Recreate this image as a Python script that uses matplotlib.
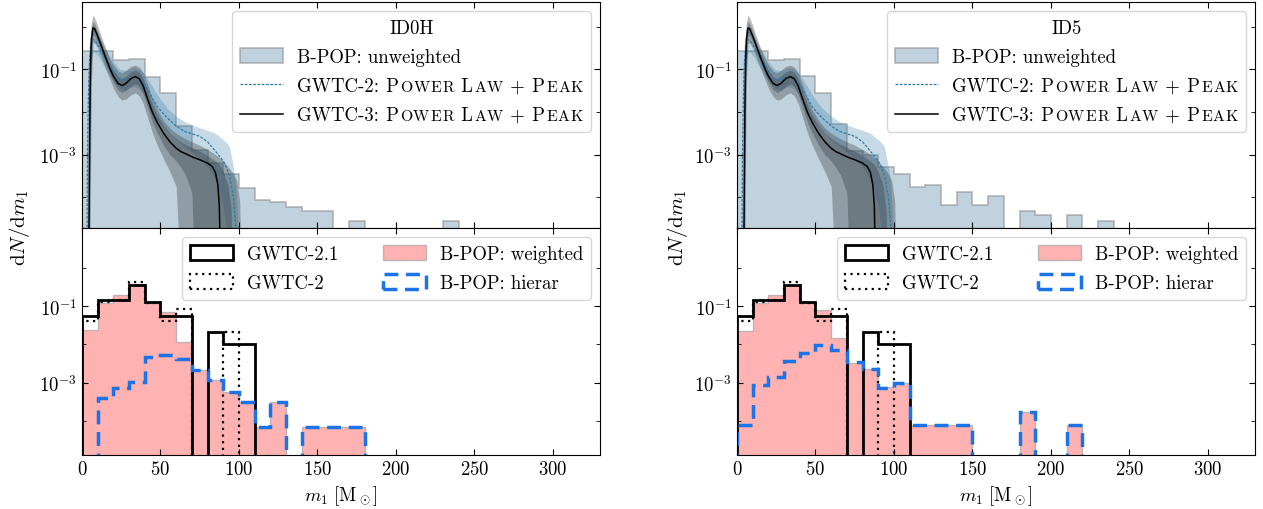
import numpy as np
import matplotlib
matplotlib.use("Agg")
import matplotlib.pyplot as plt
from matplotlib.offsetbox import TextArea, HPacker
from matplotlib.patches import Rectangle
from matplotlib.lines import Line2D
from matplotlib.ticker import FixedLocator, FuncFormatter, NullFormatter

plt.rcParams['font.family'] = 'serif'
plt.rcParams['font.serif'] = ['cmr10']
plt.rcParams['mathtext.fontset'] = 'cm'
plt.rcParams['axes.formatter.use_mathtext'] = True
plt.rcParams['axes.unicode_minus'] = False

FS = 13.5
FS_LEG = 13.5

# ---------------- data ----------------
edges = np.arange(0, 250, 10)

# top panels: B-POP unweighted histograms (per 10 Msun bin)
unw_id0h = [0.275, 0.275, 0.162, 0.178, 0.066, 0.028, 0.0047, 0.00126, 6.3e-4, 3.5e-4,
            1.66e-4, 8.7e-5, 7.8e-5, 5.8e-5, 4.8e-5, 4.8e-5, 0, 2.8e-5, 0, 0, 0, 0, 0, 2.8e-5]
unw_id5 = [0.269, 0.269, 0.162, 0.174, 0.068, 0.028, 0.0051, 0.0012, 0.001, 5.1e-4,
           3.5e-4, 1.74e-4, 1.95e-4, 6.6e-5, 1.32e-4, 6.6e-5, 1.05e-4, 0, 4.8e-5, 3.9e-5,
           0, 3.9e-5, 0, 2.8e-5]

# GWTC-3 Power Law + Peak (log10 dN/dm1): median, 50% and 90% bands
m_g3 = [4, 4.5, 5, 5.5, 6, 7, 8, 10, 12, 15, 18, 20, 23, 25.5, 28, 31, 34, 36.5, 39, 42,
        45, 48, 52, 56, 60, 63, 66, 70, 72, 75, 80, 83, 85, 86.5, 87.5, 88.3, 90, 93, 95,
        96, 98.5, 100.5, 101.5]
g3_med = [-6, -4.5, -2.0, -0.8, -0.3, -0.03, -0.04, -0.22, -0.42, -0.72,
          -1.0, -1.16, -1.33, -1.38, -1.33, -1.22, -1.17, -1.22, -1.39, -1.72,
          -2.02, -2.25, -2.5, -2.7, -2.85, -2.93, -2.98, -3.05, -3.08, -3.12,
          -3.2, -3.28, -3.42, -3.7, -4.2, -6, -6, -6, -6, -6, -6, -6, -6]
g3_in_hi = [-6, -2.5, -0.9, -0.3, 0.0, 0.12, 0.08, -0.1, -0.32, -0.62,
            -0.88, -1.03, -1.18, -1.22, -1.16, -1.06, -1.02, -1.07, -1.22, -1.55,
            -1.85, -2.08, -2.32, -2.5, -2.62, -2.7, -2.76, -2.83, -2.87, -2.92,
            -3.02, -3.1, -3.15, -3.2, -3.24, -3.28, -3.4, -3.72, -4.3, -6, -6, -6, -6]
g3_in_lo = [-6, -6, -3.5, -1.5, -0.7, -0.2, -0.2, -0.36, -0.54, -0.84,
            -1.12, -1.3, -1.48, -1.54, -1.5, -1.4, -1.34, -1.4, -1.58, -1.92,
            -2.25, -2.5, -2.78, -3.0, -3.15, -3.3, -3.48, -3.9, -6, -6,
            -6, -6, -6, -6, -6, -6, -6, -6, -6, -6, -6, -6, -6]
g3_out_hi = [-6, -1.5, -0.5, -0.1, 0.12, 0.27, 0.22, 0.02, -0.2, -0.5,
             -0.76, -0.9, -1.04, -1.08, -1.02, -0.93, -0.9, -0.95, -1.08, -1.38,
             -1.7, -1.95, -2.2, -2.38, -2.5, -2.57, -2.63, -2.7, -2.73, -2.78,
             -2.88, -2.95, -3.0, -3.04, -3.07, -3.09, -3.15, -3.28, -3.38, -3.43,
             -3.6, -4.1, -6]
g3_out_lo = [-6, -6, -6, -3, -1.3, -0.4, -0.38, -0.5, -0.68, -0.98,
             -1.26, -1.44, -1.64, -1.72, -1.7, -1.6, -1.55, -1.62, -1.8, -2.15,
             -2.5, -2.78, -3.1, -3.4, -3.75, -6, -6, -6, -6, -6,
             -6, -6, -6, -6, -6, -6, -6, -6, -6, -6, -6, -6, -6]

# GWTC-2 Power Law + Peak (log10 dN/dm1)
m_g2 = [3, 3.5, 4, 4.5, 5, 6, 7, 8.5, 11, 14, 17, 20, 24, 28, 33, 37, 40, 44, 48, 54,
        60, 65, 70, 75, 80, 85, 90, 92, 94, 96.5, 98, 99.5, 101]
g2_med = [-6, -3, -1.8, -1.1, -0.7, -0.4, -0.3, -0.33, -0.48, -0.68, -0.88, -1.04, -1.22,
          -1.25, -1.17, -1.23, -1.36, -1.62, -1.88, -2.13, -2.33, -2.45, -2.51, -2.57,
          -2.7, -2.92, -3.15, -3.3, -3.5, -4.0, -4.7, -6, -6]
g2_hi = [-6, -1.5, -0.8, -0.45, -0.25, -0.1, -0.05, -0.1, -0.25, -0.45, -0.65, -0.82,
         -1.0, -1.03, -0.95, -1.0, -1.12, -1.35, -1.6, -1.9, -2.1, -2.22, -2.3, -2.37,
         -2.43, -2.5, -2.65, -2.72, -2.82, -3.3, -3.7, -4.8, -6]
g2_lo = [-6, -6, -4, -2.5, -1.5, -0.8, -0.6, -0.6, -0.72, -0.92, -1.12, -1.27, -1.45,
         -1.48, -1.4, -1.47, -1.62, -1.9, -2.2, -2.45, -2.65, -2.8, -2.95, -3.1, -3.3,
         -3.6, -4.2, -4.8, -6, -6, -6, -6, -6]

# bottom panels
gwtc21 = [0.055, 0.148, 0.141, 0.363, 0.126, 0.054, 0.054, 0, 0.021, 0.0102, 0.0102]
gwtc2 = [0.040, 0.126, 0.148, 0.417, 0.120, 0.040, 0.083, 0, 0, 0.021, 0]
w_id0h = [0.024, 0.120, 0.200, 0.380, 0.120, 0.072, 0.0117, 0.0021, 0.00115, 5.6e-4,
          3.1e-4, 7.2e-5, 3.1e-4, 0, 7.2e-5, 7.2e-5, 7.2e-5, 7.2e-5]
h_id0h = [0, 4.1e-4, 7.4e-4, 1.05e-3, 4.8e-3, 5.2e-3, 4.3e-3, 2.1e-3, 1.2e-3, 5.9e-4,
          3.1e-4, 7.2e-5, 3.1e-4, 0, 7.2e-5, 7.2e-5, 7.2e-5, 7.2e-5]
w_id5 = [0.023, 0.120, 0.200, 0.363, 0.120, 0.078, 0.0145, 0.0033, 0.00234, 7.8e-4,
         9.8e-4, 7.9e-5, 7.9e-5, 7.9e-5, 7.9e-5, 0, 0, 0, 1.7e-4, 0, 0, 7.9e-5]
h_id5 = [7.9e-5, 8.9e-4, 1.41e-3, 3.6e-3, 6.0e-3, 9.5e-3, 7.1e-3, 3.5e-3, 2.34e-3, 7.2e-4,
         9.8e-4, 7.9e-5, 7.9e-5, 7.9e-5, 7.9e-5, 0, 0, 0, 1.7e-4, 0, 0, 7.9e-5]

titles = ["ID0H", "ID5"]
xticks = [0, 50, 100, 150, 200, 250, 300]

# ---------------- style ----------------
C_UNW = (0.50, 0.65, 0.74, 0.50)
C_UNW_EDGE = (0.55, 0.55, 0.55, 0.6)
C_G2 = '#2f7aa8'
C_HIER = '#1a73e8'
C_PINK = (1.0, 0.0, 0.0, 0.3)

fig = plt.figure(figsize=(12.63, 5.10), dpi=100)
W, H = 1263., 510.
lefts = [82 / W, 737 / W]
width = 518 / W
top_box = (1 - 229 / H, (229 - 3) / H)
bot_box = (1 - 456 / H, (456 - 229) / H)


def fmt_dec(v, pos):
    return r'$10^{%d}$' % int(round(np.log10(v)))


def style_axis(ax, ylim, majors, minors):
    ax.set_yscale('log')
    ax.set_xlim(0, 330)
    ax.set_ylim(*ylim)
    ax.yaxis.set_major_locator(FixedLocator(majors))
    ax.yaxis.set_major_formatter(FuncFormatter(fmt_dec))
    ax.yaxis.set_minor_locator(FixedLocator(minors))
    ax.yaxis.set_minor_formatter(NullFormatter())
    ax.xaxis.set_major_locator(FixedLocator(xticks))
    ax.tick_params(which='both', direction='in', top=True, right=True, labelsize=FS)
    ax.tick_params(which='major', length=4)
    ax.tick_params(which='minor', length=3)


def smallcaps_segments(prefix):
    big, small = FS_LEG, FS_LEG * 0.84
    segs = [(prefix, big), (" P", big)]
    segs += [(c, small) for c in "OWER"]
    segs += [(" L", big)]
    segs += [(c, small) for c in "AW"]
    segs += [(" +", big), (" P", big)]
    segs += [(c, small) for c in "EAK"]
    return segs


def replace_labels(leg, mapping):
    hbox = leg._legend_handle_box
    rows = [r for col in hbox.get_children() for r in col.get_children()]
    for i, segs in mapping.items():
        row = rows[i]
        areas = [TextArea(s, textprops=dict(fontsize=fs, color='k')) for s, fs in segs]
        box = HPacker(children=areas, align='baseline', pad=0, sep=0.8)
        box.set_figure(fig)
        row.get_children()[1] = box


unw_list = [unw_id0h, unw_id5]
w_list = [w_id0h, w_id5]
h_list = [h_id0h, h_id5]
centers = edges[:-1] + 5
leg_kw = dict(fontsize=FS_LEG, handlelength=2.3, handleheight=0.85, handletextpad=0.75,
              borderaxespad=0.5, labelspacing=0.6, borderpad=0.4)

for k in range(2):
    axt = fig.add_axes([lefts[k], top_box[0], width, top_box[1]])
    axb = fig.add_axes([lefts[k], bot_box[0], width, bot_box[1]])

    # ---- top ----
    style_axis(axt, (1.9e-5, 3.8), [1e-3, 1e-1], [1e-4, 1e-2, 1e0])
    axt.set_xticklabels([])
    nb = len(unw_list[k])
    axt.hist(centers[:nb], bins=edges[:nb + 1], weights=unw_list[k], bottom=1e-9,
             histtype='stepfilled', facecolor=C_UNW, edgecolor=C_UNW_EDGE, lw=1.2)
    m2 = np.array(m_g2)
    axt.fill_between(m2, 10 ** np.array(g2_lo), 10 ** np.array(g2_hi),
                     color=C_G2, alpha=0.28, lw=0)
    m3 = np.array(m_g3)
    axt.fill_between(m3, 10 ** np.array(g3_out_lo), 10 ** np.array(g3_out_hi),
                     color='#3c3c3c', alpha=0.35, lw=0)
    axt.fill_between(m3, 10 ** np.array(g3_in_lo), 10 ** np.array(g3_in_hi),
                     color='#2a3a44', alpha=0.35, lw=0)
    axt.plot(m2, 10 ** np.array(g2_med), color=C_G2, lw=0.9, ls=(0, (2.2, 1.2)))
    axt.plot(m3, 10 ** np.array(g3_med), color='k', lw=1.1)

    h_unw = Rectangle((0, 0), 1, 1, facecolor=C_UNW, edgecolor=C_UNW_EDGE, lw=1.2)
    h_g2 = Line2D([], [], color=C_G2, lw=0.9, ls=(0, (2.2, 1.2)))
    h_g3 = Line2D([], [], color='k', lw=1.1)
    leg = axt.legend([h_unw, h_g2, h_g3],
                     ["B-POP: unweighted", "GWTC-2: Power Law + Peak",
                      "GWTC-3: Power Law + Peak"],
                     title=titles[k], loc='upper right', title_fontsize=FS_LEG, **leg_kw)
    replace_labels(leg, {1: smallcaps_segments("GWTC-2:"),
                         2: smallcaps_segments("GWTC-3:")})

    # ---- bottom ----
    style_axis(axb, (1.3e-5, 11), [1e-3, 1e-1], [1e-4, 1e-2, 1e0])
    nw = len(w_list[k])
    hw = axb.hist(centers[:nw], bins=edges[:nw + 1], weights=w_list[k], bottom=1e-9,
                  histtype='stepfilled', facecolor=C_PINK, edgecolor=(0.6, 0.6, 0.6, 0.6),
                  lw=1.0)[2][0]
    n21 = len(gwtc21)
    h21 = axb.hist(centers[:n21], bins=edges[:n21 + 1], weights=gwtc21, bottom=1e-9,
                   histtype='step', color='k', lw=2.0)[2][0]
    n2 = len(gwtc2)
    h2 = axb.hist(centers[:n2], bins=edges[:n2 + 1], weights=gwtc2, bottom=1e-9,
                  histtype='step', color='k', lw=1.6, ls=(0, (1, 2)))[2][0]
    nh = len(h_list[k])
    hh = axb.hist(centers[:nh], bins=edges[:nh + 1], weights=h_list[k], bottom=1e-9,
                  histtype='step', color=C_HIER, lw=2.5, ls=(0, (4, 2.2)))[2][0]
    axb.legend([h21, h2, hw, hh],
               ["GWTC-2.1", "GWTC-2", "B-POP: weighted", "B-POP: hierar"],
               ncol=2, loc='upper right', columnspacing=2.35, **leg_kw)
    axb.set_xlabel(r'$m_1\ [\mathrm{M}_\odot]$', fontsize=FS, labelpad=4)

    fig.text([20 / W, 677 / W][k], 1 - 228 / H, r'$\mathrm{d}N/\mathrm{d}m_1$',
             rotation=90, va='center', ha='center', fontsize=15)

fig.savefig('out.png', dpi=100)
